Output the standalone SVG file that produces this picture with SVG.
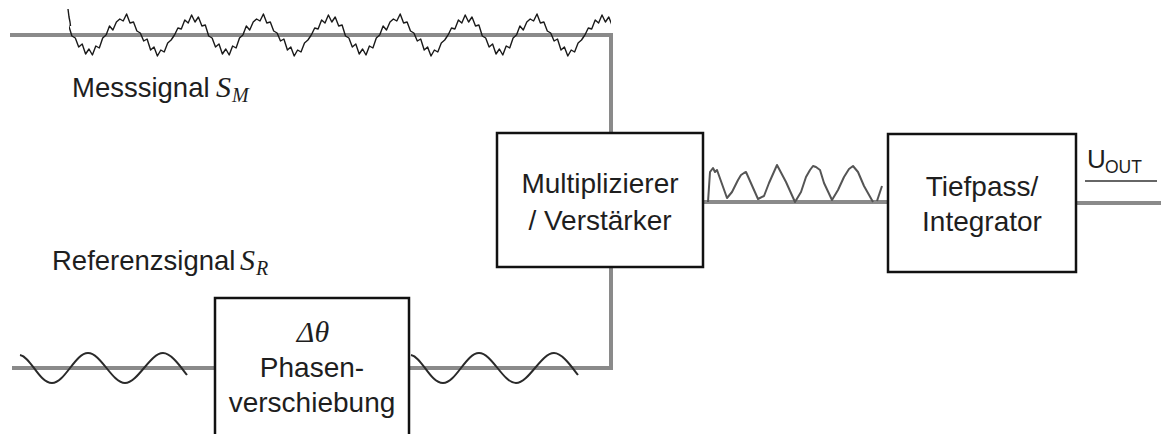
<svg xmlns="http://www.w3.org/2000/svg" xmlns:xlink="http://www.w3.org/1999/xlink" width="1161" height="434" viewBox="0 0 1161 434">
<style>
.conn{fill:none;stroke:#8a8a8a;stroke-width:4;stroke-linejoin:miter}
.box{fill:#fff;stroke:#111;stroke-width:2.5}
.t{font-family:"Liberation Sans",Arial,sans-serif;font-size:28px;fill:#1e1e1e;text-anchor:middle}
.lbl{font-family:"Liberation Sans",Arial,sans-serif;font-size:27.5px;fill:#1e1e1e}
.u{font-family:"Liberation Sans",Arial,sans-serif;font-size:26px;fill:#1e1e1e}
.usub{font-family:"Liberation Sans",Arial,sans-serif;font-size:17.5px;fill:#1e1e1e}
.math{font-family:"Liberation Serif","Times New Roman",serif;font-style:italic;fill:#1e1e1e}
.sine{fill:none;stroke:#2a2a2a;stroke-width:2}
.noise{fill:none;stroke:#1a1a1a;stroke-width:1.4;stroke-linejoin:round}
.prod{fill:none;stroke:#555;stroke-width:2;stroke-linejoin:round}
</style>
<defs>
<path id="sinewave" class="sine" d="M20,355 C31,357 39,383 52,383 C65,383 75,353 88,353 C101,353 112,383 125,383 C138,383 150,353 163,353 C171,353 180,366 187,375"/>
<path id="npA" class="noise" d="M0,0 L3.4,-7 L6.8,-6 L10.3,-15 L13.7,-12 L17.1,-20 L20.5,-13 L23.9,-18 L27.4,-9 L30.8,-10 L34.2,1 L37.6,3 L41,12 L44.5,9 L47.9,19 L51.3,14 L54.7,20 L58.1,11 L61.6,13 L65,3 L68.4,0"/>
<path id="npB" class="noise" d="M0,0 L3.4,-9 L6.8,-5 L10.3,-13 L13.7,-16 L17.1,-14 L20.5,-21 L23.9,-12 L27.4,-13 L30.8,-4 L34.2,-2 L37.6,6 L41,4 L44.5,15 L47.9,12 L51.3,21 L54.7,15 L58.1,17 L61.6,8 L65,5 L68.4,0"/>
<clipPath id="nclip"><rect x="69" y="0" width="542" height="70"/></clipPath>
</defs>

<g id="connectors">
<polyline class="conn" points="10,35 611,35 611,133"/>
<polyline class="conn" points="12,368 215,368"/>
<polyline class="conn" points="409,368 611,368 611,267"/>
<line class="conn" x1="703" y1="202" x2="888" y2="202"/>
<line class="conn" x1="1076" y1="203" x2="1161" y2="203"/>
</g>

<g id="signals">
<g id="measure-signal">
<polyline class="noise" points="68,9 69,17 70,22 70.5,26"/>
<g clip-path="url(#nclip)">
<use xlink:href="#npA" href="#npA" transform="translate(37.7,35)"/>
<use xlink:href="#npB" href="#npB" transform="translate(106.1,35)"/>
<use xlink:href="#npA" href="#npA" transform="translate(174.5,35)"/>
<use xlink:href="#npB" href="#npB" transform="translate(242.9,35)"/>
<use xlink:href="#npA" href="#npA" transform="translate(311.3,35)"/>
<use xlink:href="#npB" href="#npB" transform="translate(379.7,35)"/>
<use xlink:href="#npA" href="#npA" transform="translate(448.1,35)"/>
<use xlink:href="#npB" href="#npB" transform="translate(516.5,35)"/>
<use xlink:href="#npA" href="#npA" transform="translate(584.9,35)"/>
</g>
</g>
<g id="reference-signal">
<use xlink:href="#sinewave" href="#sinewave"/>
<use xlink:href="#sinewave" href="#sinewave" transform="translate(391,0)"/>
</g>
<g id="product-signal">
<polyline class="prod" points="708,202 710,172 713,168 715,172 717,170 727,198 732,192 738,180 741,175 744,173 746,172 758,199 764,196 769,183 777,165 786,182 795,202 801,192 806,177 810,170 813,166 816,167 820,170 824,183 832,200 838,190 844,177 849,169 853,166 858,172 864,186 873,202"/>
<polyline class="prod" points="877,201 882,186"/>
</g>
</g>

<g id="label-messsignal">
<text class="lbl" x="72" y="97">Messsignal</text>
<text class="math" x="216" y="97" font-size="30">S</text>
<text class="math" x="232" y="102" font-size="20">M</text>
</g>

<g id="label-referenzsignal">
<text class="lbl" x="52" y="270">Referenzsignal</text>
<text class="math" x="240" y="270" font-size="30">S</text>
<text class="math" x="256" y="275" font-size="20">R</text>
</g>

<g id="node-multiplier">
<rect class="box" x="497" y="133" width="206" height="134"/>
<text class="t" x="600" y="193">Multiplizierer</text>
<text class="t" x="600" y="230">/ Verstärker</text>
</g>

<g id="node-phase">
<rect class="box" x="215" y="298" width="194" height="150"/>
<text class="math" x="313" y="342" font-size="30" text-anchor="middle">Δθ</text>
<text class="t" x="312" y="377">Phasen-</text>
<text class="t" x="312" y="412">verschiebung</text>
</g>

<g id="node-lowpass">
<rect class="box" x="888" y="134" width="188" height="138"/>
<text class="t" x="982" y="196">Tiefpass/</text>
<text class="t" x="982" y="231">Integrator</text>
</g>

<g id="label-uout">
<text class="u" x="1087" y="168">U</text>
<text class="usub" x="1105" y="173">OUT</text>
<line x1="1085" y1="181" x2="1157" y2="181" stroke="#333" stroke-width="1.6"/>
</g>
</svg>
